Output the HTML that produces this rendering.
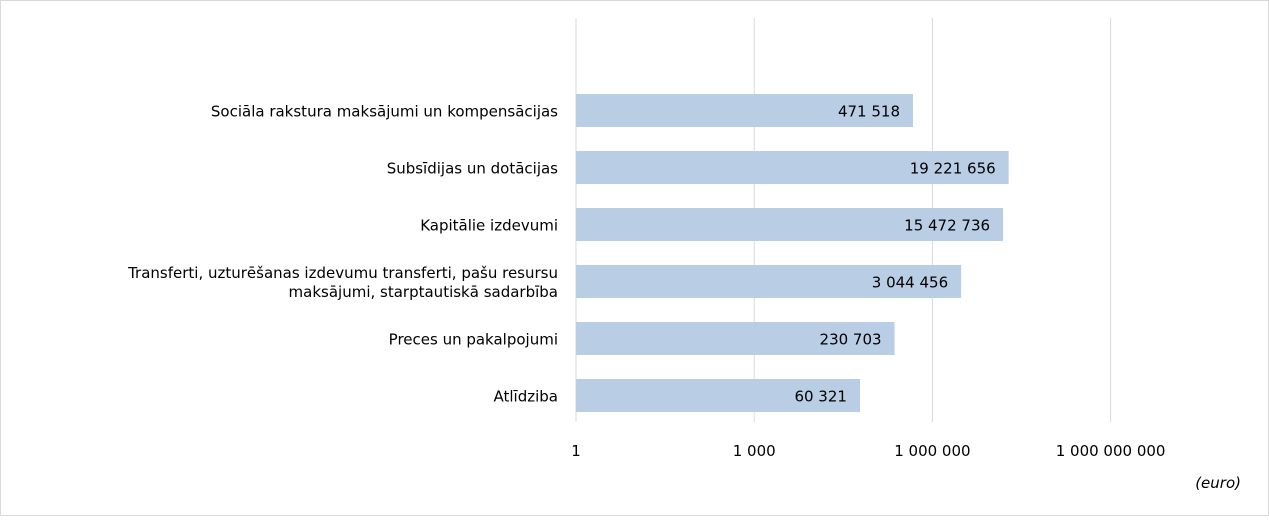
<!DOCTYPE html>
<html><head><meta charset="utf-8"><style>
html,body{margin:0;padding:0;background:#fff;}
svg text{font-family:"DejaVu Sans","Liberation Sans",sans-serif;font-size:15px;fill:#000;}
</style></head><body>
<svg id="chart" width="1269" height="516" xmlns="http://www.w3.org/2000/svg">
<rect x="0.5" y="0.5" width="1268" height="515" fill="#fff" stroke="#d9d9d9"/>
<g id="grid"></g><g id="bars"></g><g id="labels"></g><g id="ticks"></g>
<text x="1241" y="488" text-anchor="end" font-style="italic">(euro)</text>
</svg>
<script>
const categories=[["Sociāla rakstura maksājumi un kompensācijas"],["Subsīdijas un dotācijas"],["Kapitālie izdevumi"],["Transferti, uzturēšanas izdevumu transferti, pašu resursu","maksājumi, starptautiskā sadarbība"],["Preces un pakalpojumi"],["Atlīdziba"]];
const values=[471518,19221656,15472736,3044456,230703,60321];
const valueLabels=["471 518","19 221 656","15 472 736","3 044 456","230 703","60 321"];
const tickValues=[1,1000,1000000,1000000000];
const tickLabels=["1","1 000","1 000 000","1 000 000 000"];
const NS="http://www.w3.org/2000/svg";
const x0=576,pxPerDecade=59.4;
function xs(v){return x0+Math.log10(v)*pxPerDecade;}
const topY=82,band=57,barH=33;
function yc(i){return topY+band*i+band/2;}
function mk(tag,attrs,parent,txt){const e=document.createElementNS(NS,tag);for(const k in attrs)e.setAttribute(k,attrs[k]);if(txt!==undefined)e.textContent=txt;document.getElementById(parent).appendChild(e);return e;}
tickValues.forEach((t,i)=>{
 const g=mk("line",{x1:xs(t),x2:xs(t),y1:18,y2:422,stroke:"#d9d9d9","stroke-width":1},"grid");
 
 
 const l=mk("text",{x:xs(t),y:456,"text-anchor":"middle"},"ticks",tickLabels[i]);
 
 
});
values.forEach((v,i)=>{
 const y=yc(i);
 const b=mk("rect",{x:x0,y:y-barH/2,width:xs(v)-x0,height:barH,fill:"#b9cde5"},"bars");
 
 
 const vl=mk("text",{x:xs(v)-13,y:y+6,"text-anchor":"end"},"labels",valueLabels[i]);
 
 
 const lines=categories[i];
 lines.forEach((ln,j)=>{
  const cl=mk("text",{x:558,y:y+6+(j-(lines.length-1)/2)*19,"text-anchor":"end"},"labels",ln);
  
  
 });
});
</script>
</body></html>
